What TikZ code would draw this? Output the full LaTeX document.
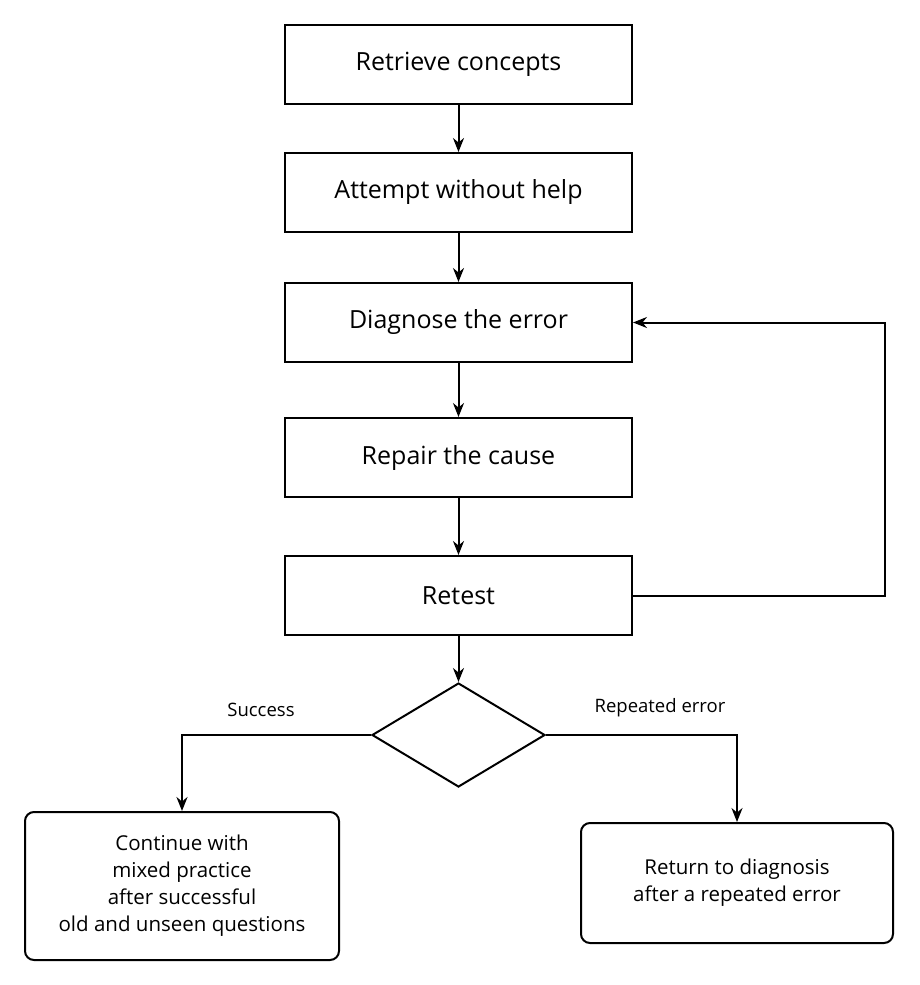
\documentclass[tikz,border=0pt]{standalone}
\usepackage{fontspec}
\setmainfont{Open Sans}
\usetikzlibrary{shapes.geometric,arrows.meta}
\tikzset{
  stepbox/.style={draw,line width=2pt,minimum width=347pt,minimum height=79pt,font=\fontsize{25}{30}\selectfont},
  endbox/.style={draw,line width=2pt,rounded corners=9pt,align=center,font=\fontsize{20.5}{27}\selectfont},
  flow/.style={line width=2pt,-{Stealth[length=14pt,width=11pt]}}
}
\begin{document}
\begin{tikzpicture}[x=1pt,y=-1pt]
\useasboundingbox (0,0) rectangle (919,985);
\node[stepbox] (r1) at (458.5,64.5) {Retrieve concepts};
\node[stepbox] (r2) at (458.5,192.5) {Attempt without help};
\node[stepbox] (r3) at (458.5,322.5) {Diagnose the error};
\node[stepbox] (r4) at (458.5,457.5) {Repair the cause};
\node[stepbox] (r5) at (458.5,595.5) {Retest};
\node[draw,line width=2pt,diamond,minimum width=173pt,minimum height=104pt,inner sep=0pt,aspect=1.66] (d) at (458.5,735) {};
\node[endbox,minimum width=314pt,minimum height=148pt] (ok) at (182,886) {Continue with\\mixed practice\\after successful\\old and unseen questions};
\node[endbox,minimum width=312pt,minimum height=120pt] (back) at (737,883) {Return to diagnosis\\after a repeated error};
\draw[flow] (r1) -- (r2);
\draw[flow] (r2) -- (r3);
\draw[flow] (r3) -- (r4);
\draw[flow] (r4) -- (r5);
\draw[flow] (r5) -- (d);
\draw[flow] (r5.east) -- (885,595.5) -- (885,322.5) -- (r3.east);
\draw[flow] (d.west) -| (ok.north);
\draw[flow] (d.east) -| (back.north);
\node[font=\fontsize{18.5}{22}\selectfont] (s) at (261,710) {Success};
\node[font=\fontsize{18.5}{22}\selectfont] (e) at (660,708) {Repeated error};
\end{tikzpicture}
\end{document}
